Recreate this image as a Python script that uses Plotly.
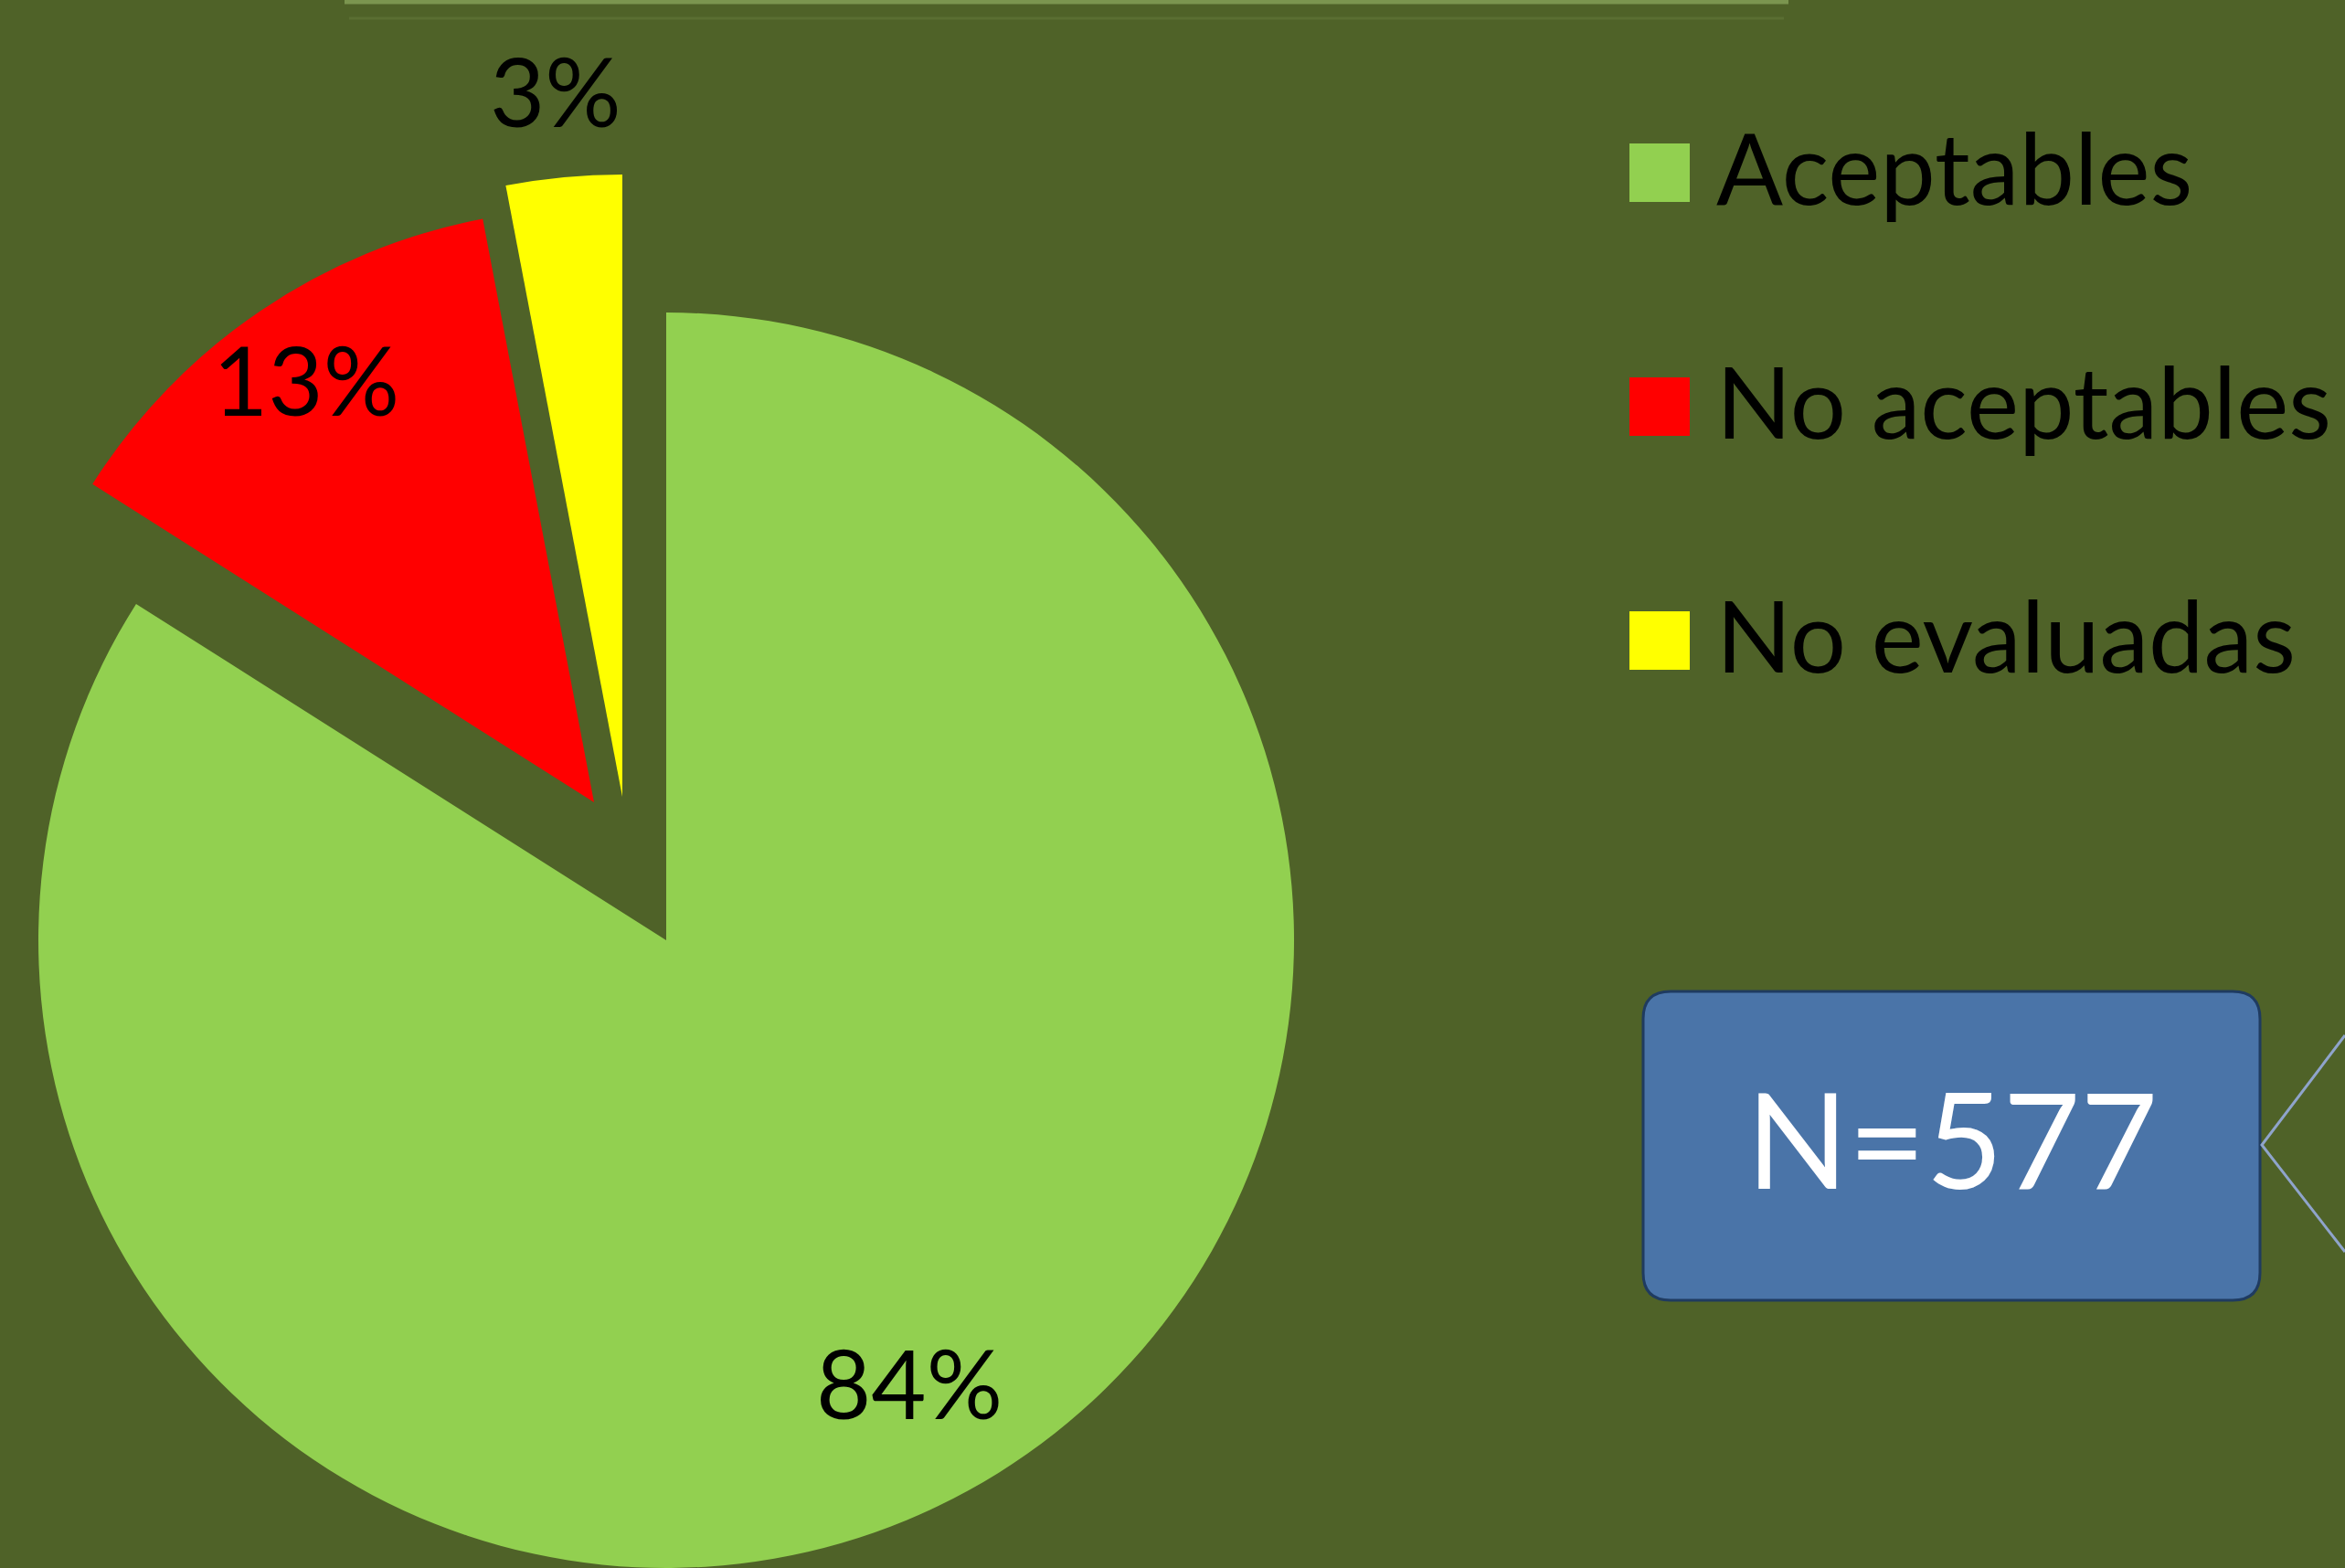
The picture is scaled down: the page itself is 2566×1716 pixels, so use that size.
import math
import plotly.graph_objects as go

W, H = 2566, 1716

# ---- data ----
categories = ["Aceptables", "No aceptables", "No evaluadas"]
values = [84, 13, 3]
colors = ["#92D050", "#FF0000", "#FFFF00"]
sample_label = "N=577"

BG = "#4F6228"
FONT = "Lato, 'Open Sans', sans-serif"


def px(x):
    return min(max(x / W, 0.0), 1.0)


def py(y):
    return min(max(1 - y / H, 0.0), 1.0)


# each slice drawn by its own pie trace (same values); exploded slices centred off the main centre
slice_geom = [(729, 1029, 687), (650, 878, 650), (681, 872, 681)]
# distance of the percentage label from each slice's apex (px)
label_dist = [552, 560, 777]

total = sum(values)
fig = go.Figure()
annotations = []
cum = 0.0
for k, (cx, cy, r) in enumerate(slice_geom):
    n = len(values)
    fig.add_trace(go.Pie(
        labels=categories,
        values=values,
        sort=False,
        direction="clockwise",
        rotation=0,
        marker=dict(colors=[c if i == k else "rgba(0,0,0,0)" for i, c in enumerate(colors)],
                    line=dict(width=0)),
        textinfo="none",
        domain=dict(x=[px(cx - r), px(cx + r)], y=[py(cy + r), py(cy - r)]),
        showlegend=False,
        hoverinfo="label+percent",
    ))
    # percentage label along the slice's mid angle
    mid = 2 * math.pi * (cum + values[k] / 2) / total
    cum += values[k]
    lx = cx + label_dist[k] * math.sin(mid)
    ly = cy - label_dist[k] * math.cos(mid)
    annotations.append(dict(text=f"{round(100 * values[k] / total)}%", xref="paper", yref="paper",
                            x=px(lx), y=py(ly), xanchor="center", yanchor="middle", showarrow=False,
                            font=dict(family=FONT, size=104, color="black")))

shapes = []

# custom legend (large swatches)
leg_rows = [189, 445, 701]
for cat, col, ry in zip(categories, colors, leg_rows):
    shapes.append(dict(type="rect", xref="paper", yref="paper",
                       x0=px(1783), x1=px(1849), y0=py(ry + 32), y1=py(ry - 32),
                       fillcolor=col, line=dict(width=0)))
    annotations.append(dict(text=cat, xref="paper", yref="paper", x=px(1876), y=py(ry - 7),
                            xanchor="left", yanchor="middle", showarrow=False,
                            font=dict(family=FONT, size=108, color="black")))

# N box with rounded corners
bx0, bx1, by0, by1, rad = 1798, 2473, 1085, 1423, 30
pts = [
    ("M", [(bx0 + rad, by0)]),
    ("L", [(bx1 - rad, by0)]),
    ("Q", [(bx1, by0), (bx1, by0 + rad)]),
    ("L", [(bx1, by1 - rad)]),
    ("Q", [(bx1, by1), (bx1 - rad, by1)]),
    ("L", [(bx0 + rad, by1)]),
    ("Q", [(bx0, by1), (bx0, by1 - rad)]),
    ("L", [(bx0, by0 + rad)]),
    ("Q", [(bx0, by0), (bx0 + rad, by0)]),
]
path = " ".join(cmd + " " + " ".join(f"{px(x):.6f},{py(y):.6f}" for x, y in p) for cmd, p in pts) + " Z"
shapes.append(dict(type="path", xref="paper", yref="paper", path=path,
                   fillcolor="#4A74A8", line=dict(color="#1F3B60", width=3)))
annotations.append(dict(text=sample_label, xref="paper", yref="paper", x=px(2136), y=py(1244),
                        xanchor="center", yanchor="middle", showarrow=False,
                        font=dict(family=FONT, size=146, color="white")))

# callout pointer lines at right edge
shapes.append(dict(type="path", xref="paper", yref="paper",
                   path=f"M {px(2566)},{py(1133)} L {px(2475)},{py(1253)} L {px(2566)},{py(1370)}",
                   line=dict(color="#8FA4CB", width=3)))

# top edge of a cut-off box
shapes.append(dict(type="line", xref="paper", yref="paper", x0=px(377), x1=px(1957),
                   y0=py(2), y1=py(2), line=dict(color="#7B954F", width=5)))
shapes.append(dict(type="line", xref="paper", yref="paper", x0=px(382), x1=px(1952),
                   y0=py(20), y1=py(20), line=dict(color="#5A6E32", width=3)))

fig.update_layout(
    width=W, height=H,
    margin=dict(l=0, r=0, t=0, b=0),
    paper_bgcolor=BG, plot_bgcolor=BG,
    font=dict(family=FONT, color="black"),
    shapes=shapes, annotations=annotations,
    showlegend=False,
)

fig.write_html("out.html")
